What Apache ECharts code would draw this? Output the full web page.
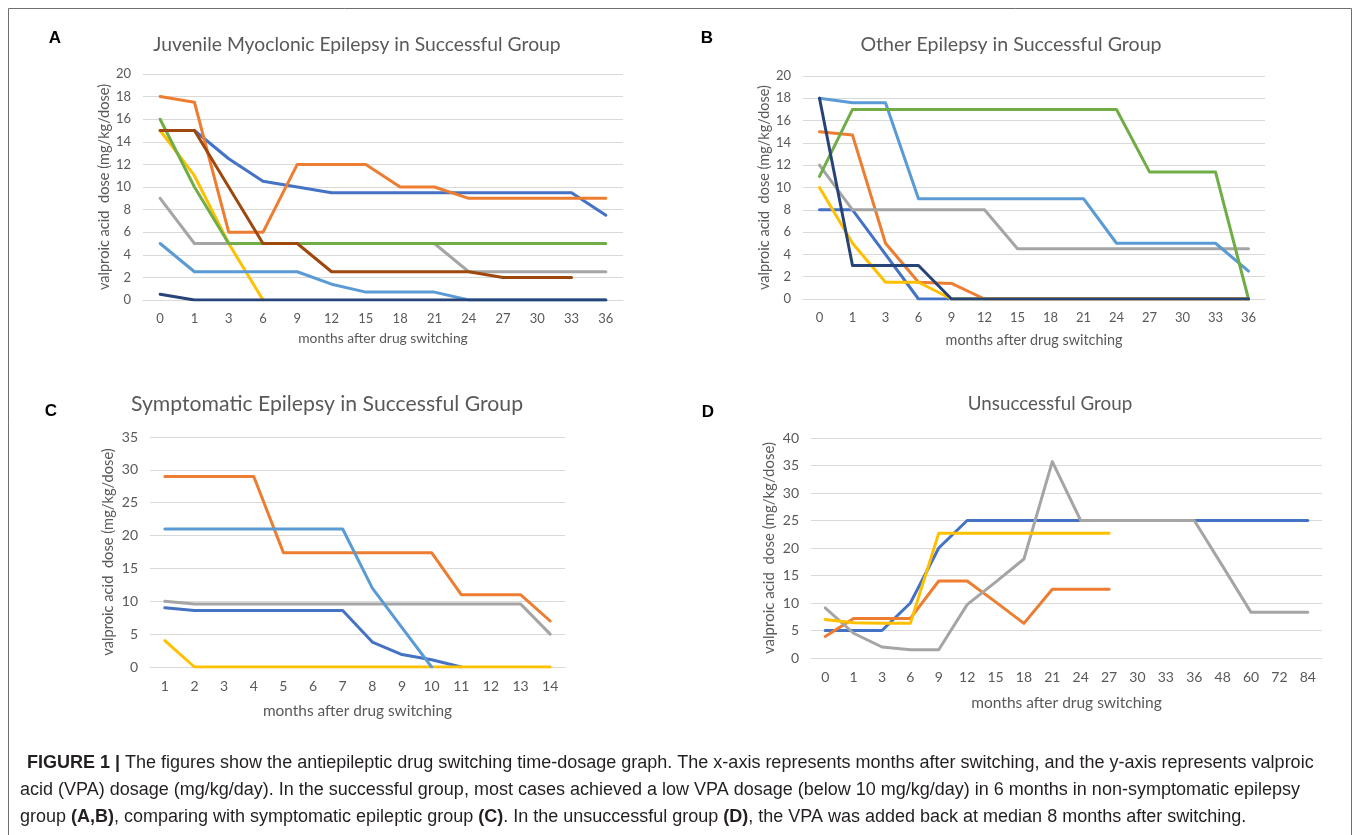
<!DOCTYPE html>
<html>
<head>
<meta charset="utf-8">
<title>VPA switching time-dosage graph</title>
<script src="https://cdn.jsdelivr.net/npm/echarts@6/dist/echarts.min.js"></script>
<style>
  html, body { margin: 0; padding: 0; background: #fff; }
  #fig { width: 1358px; height: 835px; }
</style>
</head>
<body>
<div id="fig"></div>
<script>
// x categories: months after drug switching
var monthsAB = ['0', '1', '3', '6', '9', '12', '15', '18', '21', '24', '27', '30', '33', '36'];
var monthsC = ['1', '2', '3', '4', '5', '6', '7', '8', '9', '10', '11', '12', '13', '14'];
var monthsD = ['0', '1', '3', '6', '9', '12', '15', '18', '21', '24', '27', '30', '33', '36', '48', '60', '72', '84'];

// A - juvenile myoclonic epilepsy, successful group
var aBlue      = [15, 15, 12.5, 10.5, 10, 9.5, 9.5, 9.5, 9.5, 9.5, 9.5, 9.5, 9.5, 7.5];
var aOrange    = [18, 17.5, 6, 6, 12, 12, 12, 10, 10, 9, 9, 9, 9, 9];
var aGray      = [9, 5, 5, 5, 5, 5, 5, 5, 5, 2.5, 2.5, 2.5, 2.5, 2.5];
var aYellow    = [15, 11, 5, 0];
var aLightBlue = [5, 2.5, 2.5, 2.5, 2.5, 1.4, 0.7, 0.7, 0.7, 0, 0, 0, 0, 0];
var aGreen     = [16, 10, 5, 5, 5, 5, 5, 5, 5, 5, 5, 5, 5, 5];
var aNavy      = [0.5, 0, 0, 0, 0, 0, 0, 0, 0, 0, 0, 0, 0, 0];
var aBrown     = [15, 15, 10, 5, 5, 2.5, 2.5, 2.5, 2.5, 2.5, 2, 2, 2];

// B - other epilepsy, successful group
var bBlue      = [8, 8, 4, 0, 0, 0, 0, 0, 0, 0, 0, 0, 0, 0];
var bOrange    = [15, 14.7, 5, 1.5, 1.4, 0, 0, 0, 0, 0, 0, 0, 0, 0];
var bGray      = [12, 8, 8, 8, 8, 8, 4.5, 4.5, 4.5, 4.5, 4.5, 4.5, 4.5, 4.5];
var bYellow    = [10, 5, 1.5, 1.5, 0, 0, 0, 0, 0, 0, 0, 0, 0, 0];
var bLightBlue = [18, 17.6, 17.6, 9, 9, 9, 9, 9, 9, 5, 5, 5, 5, 2.5];
var bGreen     = [11, 17, 17, 17, 17, 17, 17, 17, 17, 17, 11.4, 11.4, 11.4, 0];
var bNavy      = [18, 3, 3, 3, 0, 0, 0, 0, 0, 0, 0, 0, 0, 0];

// C - symptomatic epilepsy, successful group
var cBlue      = [9, 8.6, 8.6, 8.6, 8.6, 8.6, 8.6, 3.8, 1.9, 1.1, 0];
var cOrange    = [29, 29, 29, 29, 17.4, 17.4, 17.4, 17.4, 17.4, 17.4, 11, 11, 11, 7];
var cGray      = [10, 9.6, 9.6, 9.6, 9.6, 9.6, 9.6, 9.6, 9.6, 9.6, 9.6, 9.6, 9.6, 5];
var cYellow    = [4, 0, 0, 0, 0, 0, 0, 0, 0, 0, 0, 0, 0, 0];
var cLightBlue = [21, 21, 21, 21, 21, 21, 21, 12, 6, 0];

// D - unsuccessful group
var dBlue   = [5, 5, 5, 10, 20, 25, 25, 25, 25, 25, 25, 25, 25, 25, 25, 25, 25, 25];
var dOrange = [3.9, 7.2, 7.2, 7.2, 14, 14, 10.2, 6.3, 12.5, 12.5, 12.5];
var dGray   = [9.1, 4.5, 2, 1.5, 1.5, 9.7, 13.8, 18, 35.7, 25, 25, 25, 25, 25, 16.7, 8.3, 8.3, 8.3];
var dYellow = [7, 6.4, 6.3, 6.3, 22.7, 22.7, 22.7, 22.7, 22.7, 22.7, 22.7];

// office palette
var BLUE = '#4472C4', ORANGE = '#ED7D31', GRAY = '#A5A5A5', YELLOW = '#FFC000',
    LBLUE = '#5B9BD5', GREEN = '#70AD47', NAVY = '#264478', BROWN = '#9E480E';

var txt = '#595959';
var grid = '#D9D9D9';
var font = 'Lato';

var fig = echarts.init(document.getElementById('fig'));

function xAx(idx, cats, gap, tickSize, nameSize) {
    return {
        type: 'category', gridIndex: idx, data: cats, boundaryGap: true,
        axisTick: {show: false},
        axisLine: {lineStyle: {color: grid, width: 1}},
        axisLabel: {color: txt, fontSize: tickSize, fontFamily: font, margin: 12},
        name: 'months after drug switching', nameLocation: 'middle', nameGap: gap,
        nameTextStyle: {color: txt, fontSize: nameSize, fontFamily: font}
    };
}
function yAx(idx, max, step, gap, tickSize, nameSize) {
    return {
        type: 'value', gridIndex: idx, min: 0, max: max, interval: step,
        axisLine: {show: false}, axisTick: {show: false},
        splitLine: {lineStyle: {color: grid, width: 1}},
        axisLabel: {color: txt, fontSize: tickSize, fontFamily: font, margin: 12},
        name: 'valproic acid  dose (mg/kg/dose)', nameLocation: 'middle', nameGap: gap,
        nameTextStyle: {color: txt, fontSize: nameSize, fontFamily: font}
    };
}
function line(idx, color, vals) {
    return {
        type: 'line', xAxisIndex: idx, yAxisIndex: idx, data: vals,
        symbol: 'none', silent: true, animation: false,
        lineStyle: {color: color, width: 3, cap: 'round', join: 'round'}
    };
}
function label(x, y, s, size, bold, color, fam) {
    return {
        type: 'text', x: x, y: y,
        style: {
            text: s, fontSize: size, fontWeight: bold ? 'bold' : 'normal',
            fontFamily: fam || font, fill: color || txt,
            align: 'center', verticalAlign: 'middle'
        }
    };
}

var cap = 'Liberation Sans';
var capSize = 18;
function capLine(x, y, s) {
    return {
        type: 'text', x: x, y: y,
        style: {
            text: s, fontSize: capSize, fontFamily: cap, fill: '#231f20',
            align: 'left', verticalAlign: 'middle',
            rich: {
                b: {fontSize: capSize, fontFamily: cap, fill: '#231f20', fontWeight: 'bold'}
            }
        }
    };
}

var option = {
    backgroundColor: '#fff',
    animation: false,
    grid: [
        {left: 143, top: 74, width: 480, height: 226},
        {left: 803, top: 76, width: 462, height: 223},
        {left: 150, top: 437, width: 415, height: 230},
        {left: 811, top: 438, width: 511, height: 220}
    ],
    xAxis: [
        xAx(0, monthsAB, 32, 13, 13.8),
        xAx(1, monthsAB, 34, 13, 14.4),
        xAx(2, monthsC, 37, 14, 15.4),
        xAx(3, monthsD, 37, 14, 15.5)
    ],
    yAxis: [
        yAx(0, 20, 2, 31, 13, 14.6),
        yAx(1, 20, 2, 30, 13, 14.5),
        yAx(2, 35, 5, 34, 14, 14.7),
        yAx(3, 40, 5, 34, 14, 15)
    ],
    series: [
        line(0, BLUE, aBlue), line(0, ORANGE, aOrange), line(0, GRAY, aGray), line(0, YELLOW, aYellow),
        line(0, LBLUE, aLightBlue), line(0, GREEN, aGreen), line(0, NAVY, aNavy), line(0, BROWN, aBrown),

        line(1, BLUE, bBlue), line(1, ORANGE, bOrange), line(1, GRAY, bGray), line(1, YELLOW, bYellow),
        line(1, LBLUE, bLightBlue), line(1, GREEN, bGreen), line(1, NAVY, bNavy),

        line(2, BLUE, cBlue), line(2, ORANGE, cOrange), line(2, GRAY, cGray), line(2, YELLOW, cYellow),
        line(2, LBLUE, cLightBlue),

        line(3, BLUE, dBlue), line(3, ORANGE, dOrange), line(3, GRAY, dGray), line(3, YELLOW, dYellow)
    ],
    graphic: [
        // outer frame, bottom edge runs off the page
        {type: 'polyline', shape: {points: [[8.5, 850], [8.5, 8.5], [1351.5, 8.5], [1351.5, 850]]},
         style: {stroke: '#6f6f6f', lineWidth: 1, fill: null}},

        label(55, 38, 'A', 17, true, '#000', 'Liberation Sans'),
        label(707, 38, 'B', 17, true, '#000', 'Liberation Sans'),
        label(51, 411, 'C', 17, true, '#000', 'Liberation Sans'),
        label(708, 412, 'D', 17, true, '#000', 'Liberation Sans'),

        label(357, 45, 'Juvenile Myoclonic Epilepsy in Successful Group', 19.3),
        label(1011, 45, 'Other Epilepsy in Successful Group', 19.6),
        label(327, 404, 'Symptomatic Epilepsy in Successful Group', 21.2),
        label(1050, 404, 'Unsuccessful Group', 18.8),

        capLine(27, 763, '{b|FIGURE 1 |} The figures show the antiepileptic drug switching time-dosage graph. The x-axis represents months after switching, and the y-axis represents valproic'),
        capLine(20, 790, 'acid (VPA) dosage (mg/kg/day). In the successful group, most cases achieved a low VPA dosage (below 10 mg/kg/day) in 6 months in non-symptomatic epilepsy'),
        capLine(20, 817, 'group {b|(A,B)}, comparing with symptomatic epileptic group {b|(C)}. In the unsuccessful group {b|(D)}, the VPA was added back at median 8 months after switching.')
    ]
};

fig.setOption(option);
</script>
</body>
</html>
